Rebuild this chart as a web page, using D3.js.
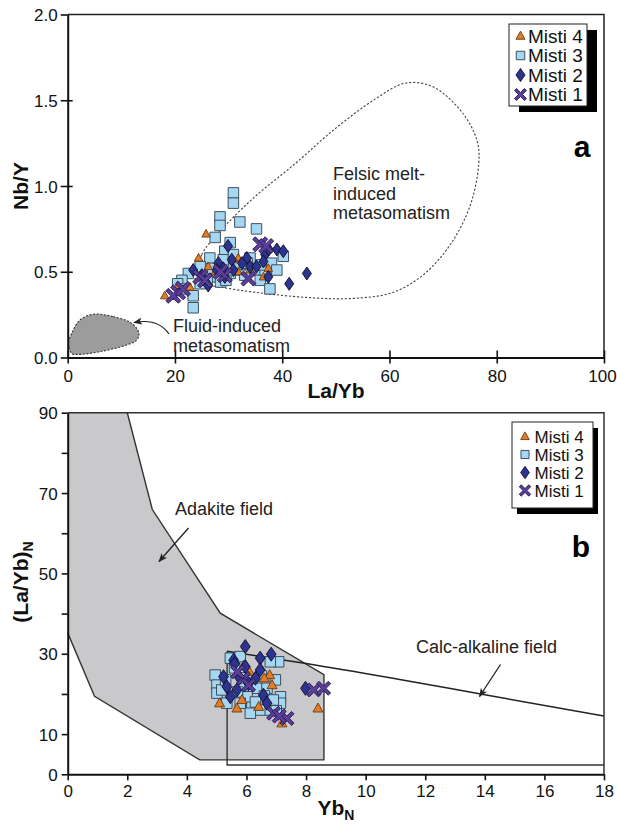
<!DOCTYPE html>
<html><head><meta charset="utf-8">
<script src="https://cdn.jsdelivr.net/npm/d3@7"></script>
<style>body{margin:0;background:#fff}svg{display:block;font-family:"Liberation Sans",Arial,Helvetica,sans-serif}</style>
</head><body><svg id="c" width="617" height="824"></svg>
<script>
// ---------- DATA ----------
const seriesNames = ["Misti 4", "Misti 3", "Misti 2", "Misti 1"];

// Panel a: [La/Yb, Nb/Y]
const aMisti3 = [[30.9,0.96],[30.9,0.90],[28.4,0.82],[28.4,0.77],[32.1,0.79],[27.5,0.70],[35.2,0.75],[30.3,0.67],[29.3,0.62],[26.5,0.58],[29.0,0.57],[30.9,0.60],[34.0,0.58],[32.1,0.54],[24.7,0.53],[22.5,0.49],[21.3,0.45],[20.5,0.43],[22.0,0.40],[23.4,0.36],[23.4,0.29],[24.7,0.43],[25.5,0.47],[27.8,0.47],[27.0,0.52],[30.3,0.49],[32.1,0.51],[33.0,0.48],[35.2,0.51],[35.9,0.45],[36.8,0.51],[38.0,0.55],[39.0,0.51],[40.2,0.59],[37.7,0.40],[28.5,0.44],[31.0,0.53],[29.5,0.45],[26.0,0.45],[33.5,0.55],[36.0,0.54]];
const aMisti4 = [[25.8,0.72],[24.4,0.58],[26.2,0.53],[18.1,0.36],[22.8,0.41],[31.8,0.50],[34.0,0.51],[36.5,0.47],[37.4,0.52],[30.7,0.57],[31.8,0.58],[27.5,0.50],[20.5,0.42]];
const aMisti2 = [[29.9,0.65],[39.0,0.63],[40.2,0.62],[36.8,0.60],[37.5,0.63],[44.6,0.49],[41.3,0.43],[28.1,0.55],[30.6,0.57],[33.4,0.58],[34.0,0.53],[26.2,0.42],[27.8,0.51],[29.3,0.47],[30.9,0.51],[37.4,0.47],[35.2,0.53],[23.4,0.51],[32.5,0.55],[29.0,0.52],[25.0,0.48],[36.5,0.56]];
const aMisti1 = [[35.9,0.66],[37.0,0.65],[24.7,0.47],[25.6,0.45],[20.6,0.38],[19.7,0.36],[21.5,0.40],[33.7,0.46],[29.3,0.48],[28.5,0.50]];

// Panel b: [YbN, (La/Yb)N]
const bMisti3 = [[5.46,28.9],[5.79,29.3],[7.08,28.0],[6.8,28.0],[4.95,24.7],[5.01,22.2],[5.01,20.2],[5.17,21.0],[6.35,21.4],[6.97,23.5],[7.14,19.3],[7.14,17.7],[6.18,16.8],[6.46,16.0],[6.02,19.3],[6.69,21.4],[5.79,17.7],[6.13,15.2],[6.8,16.0],[5.34,17.7],[5.6,26.5],[6.5,24.5],[5.9,22.0],[6.6,19.5],[5.3,23.5],[6.9,18.5],[6.3,18.0],[5.7,20.5],[7.0,15.8],[6.0,24.0]];
const bMisti4 = [[5.1,17.7],[5.68,16.4],[5.85,18.5],[6.41,16.8],[6.78,24.7],[6.86,22.2],[6.6,23.9],[7.19,12.7],[8.4,16.4],[5.9,27.0],[6.1,25.5]];
const bMisti2 = [[5.96,31.8],[5.57,28.4],[6.46,28.9],[6.83,29.9],[5.23,24.3],[5.96,26.8],[6.46,26.0],[6.3,23.9],[5.34,21.8],[5.68,21.0],[5.46,19.3],[6.57,19.7],[6.69,17.7],[7.98,21.4],[6.07,22.6],[5.77,24.0],[5.6,27.5]];
const bMisti1 = [[8.26,21.0],[8.59,21.4],[6.91,15.2],[7.36,13.9],[5.9,23.9],[6.07,22.2],[5.7,25.5],[7.1,14.5]];

// Fields
const felsicField = [[24.0,0.47],[25.0,0.6],[28.5,0.74],[35,0.94],[42.4,1.13],[49.7,1.33],[57,1.5],[63,1.6],[68,1.58],[73,1.45],[75.8,1.31],[76.7,1.19],[75.4,0.92],[71.8,0.68],[66.6,0.49],[60.7,0.38],[53.4,0.345],[46,0.347],[35,0.38],[28.5,0.41],[25,0.43]];
const fluidField = [[4.8,0.252],[8.5,0.238],[11.9,0.2],[13.3,0.14],[12.8,0.1],[11,0.073],[6,0.034],[2,0.018],[0.75,0.024],[0.15,0.08],[0.75,0.141],[2.3,0.219]];
const adakiteField = [[0,90],[2,90],[2.84,65.9],[5.12,40.1],[8.6,24.8],[8.6,3.6],[4.43,3.6],[0.9,19.4],[0,35.2]];
const calcAlkTop = [[5.35,30.6],[8,27.6],[11,23.8],[14,19.8],[18,14.5]];
const calcAlkBase = [[5.35,30.6],[5.35,2.3],[18,2.3]];

// Ticks
const aXTicks = [0,20,40,60,80,100];
const aYTicks = [0,0.5,1.0,1.5,2.0];
const bXTicks = [0,2,4,6,8,10,12,14,16,18];
const bYTicks = [0,10,20,30,40,50,60,70,80,90];
const bYLabels = [0,10,30,50,70,90];

// ---------- DRAW ----------
const svg = d3.select("#c");
const L = 67.7, R = 604;
const xA = d3.scaleLinear([0,100],[L,R]);
const yA = d3.scaleLinear([0,2],[357.5,14.5]);
const xB = d3.scaleLinear([0,18],[L,R]);
const yB = d3.scaleLinear([0,90],[774.3,412.7]);

const sty = {
  tri: {fill:"#e27c26", stroke:"#6a3a12"},
  sq: {fill:"#a6d7f2", stroke:"#2f3f50"},
  dia: {fill:"#2c348f", stroke:"#0d0d2a"},
  x: {fill:"#5b3e98", stroke:"#24164d"}
};
function markerPath(type, s) {
  if (type === "tri") { const w = s, h = s*0.9; return `M0,${-h*0.6}L${w/2},${h*0.4}L${-w/2},${h*0.4}Z`; }
  if (type === "sq") { const a = s/2; return `M${-a},${-a}H${a}V${a}H${-a}Z`; }
  if (type === "dia") { const w = s*0.7, h = s; return `M0,${-h/2}L${w/2},0L0,${h/2}L${-w/2},0Z`; }
  const r = s/2, t = s*0.17;
  const p = [[0,-t],[r-t,-r],[r,-r+t],[t,0],[r,r-t],[r-t,r],[0,t],[-r+t,r],[-r,r-t],[-t,0],[-r,-r+t],[-r+t,-r]];
  return "M" + p.map(q => q.join(",")).join("L") + "Z";
}
function plotSeries(g, data, type, size, xs, ys) {
  g.selectAll(null).data(data).enter().append("path")
    .attr("d", markerPath(type, size))
    .attr("transform", d => `translate(${xs(d[0])},${ys(d[1])})`)
    .attr("fill", sty[type].fill).attr("stroke", sty[type].stroke).attr("stroke-width", 0.9);
}
function legend(x, y, w, h, sx, sy, rows, symX, txtX, fs, scale) {
  const g = svg.append("g");
  g.append("rect").attr("x", x+sx).attr("y", y+sy).attr("width", w).attr("height", h).attr("fill", "#000");
  g.append("rect").attr("x", x).attr("y", y).attr("width", w).attr("height", h).attr("fill", "#fff").attr("stroke", "#222").attr("stroke-width", 1);
  const types = ["tri","sq","dia","x"];
  const sizes = [9*scale, 8.5*scale, 13*scale, 12*scale];
  seriesNames.forEach((n, i) => {
    g.append("path").attr("d", markerPath(types[i], sizes[i])).attr("transform", `translate(${symX},${rows[i]})`)
      .attr("fill", sty[types[i]].fill).attr("stroke", sty[types[i]].stroke).attr("stroke-width", 0.9);
    g.append("text").attr("x", txtX).attr("y", rows[i] + fs*0.36).attr("font-size", fs).attr("fill", "#111").text(n);
  });
}
const defs = svg.append("defs");
defs.append("marker").attr("id", "ah").attr("viewBox", "0 0 10 10").attr("refX", 9).attr("refY", 5)
  .attr("markerWidth", 9).attr("markerHeight", 9).attr("markerUnits", "userSpaceOnUse").attr("orient", "auto")
  .append("path").attr("d", "M0,1L10,5L0,9L2.5,5Z").attr("fill", "#222");

// ===== Panel a =====
const gA = svg.append("g");
const closed = d3.line().x(d => xA(d[0])).y(d => yA(d[1])).curve(d3.curveCatmullRomClosed.alpha(0.5));
gA.append("path").attr("d", closed(fluidField)).attr("fill", "#9c9c9c").attr("stroke", "#333").attr("stroke-width", 1.1).attr("stroke-dasharray", "2,1.6");
gA.append("path").attr("d", closed(felsicField)).attr("fill", "none").attr("stroke", "#444").attr("stroke-width", 1.1).attr("stroke-dasharray", "2.2,1.8");

gA.append("path").attr("d", `M${L},${yA(2)}H${R}V${yA(0)}`).attr("fill", "none").attr("stroke", "#222").attr("stroke-width", 1.5);

const axA_x = gA.append("g").attr("transform", `translate(0,${yA(0)})`)
  .call(d3.axisBottom(xA).tickValues(aXTicks).tickSize(6).tickSizeOuter(0).tickFormat(d3.format("d")));
axA_x.selectAll(".tick line").attr("y1", -7);
const axA_y = gA.append("g").attr("transform", `translate(${L},0)`)
  .call(d3.axisLeft(yA).tickValues(aYTicks).tickSize(7).tickSizeOuter(0).tickFormat(d3.format(".1f")));
axA_y.selectAll(".tick line").attr("x1", 5);
axA_y.selectAll(".tick").filter(d => d === 2).select("line").attr("x1", 0);

gA.append("path").attr("d", `M169,334Q158,318 134,322.5`).attr("fill", "none").attr("stroke", "#222").attr("stroke-width", 1.2).attr("marker-end", "url(#ah)");
const annA = gA.append("g").attr("font-size", 18).attr("fill", "#222");
annA.append("text").attr("x", 173).attr("y", 332).text("Fluid-induced");
annA.append("text").attr("x", 173).attr("y", 352).text("metasomatism");
annA.append("text").attr("x", 333).attr("y", 180).text("Felsic melt-");
annA.append("text").attr("x", 333).attr("y", 199.5).text("induced");
annA.append("text").attr("x", 333).attr("y", 219).text("metasomatism");
gA.append("text").attr("x", 582).attr("y", 157).attr("text-anchor", "middle").attr("font-size", 30).attr("font-weight", "bold").text("a");

plotSeries(gA, aMisti3, "sq", 10.5, xA, yA);
plotSeries(gA, aMisti4, "tri", 8.5, xA, yA);
plotSeries(gA, aMisti2, "dia", 13, xA, yA);
plotSeries(gA, aMisti1, "x", 15, xA, yA);

legend(509, 24, 78, 82, 10, 6, [36, 55.5, 75, 94.5], 520.5, 528, 19, 1);

// ===== Panel b =====
const gB = svg.append("g");
const lineB = d3.line().x(d => xB(d[0])).y(d => yB(d[1]));
gB.append("path").attr("d", lineB(adakiteField) + "Z").attr("fill", "#c9c9cb").attr("stroke", "none");
gB.append("path").attr("d", lineB(adakiteField.slice(1))).attr("fill", "none").attr("stroke", "#333").attr("stroke-width", 1.4);
gB.append("path").attr("d", lineB(calcAlkBase)).attr("fill", "none").attr("stroke", "#333").attr("stroke-width", 1.4);
gB.append("path").attr("d", lineB.curve(d3.curveMonotoneX)(calcAlkTop)).attr("fill", "none").attr("stroke", "#222").attr("stroke-width", 1.5);

gB.append("path").attr("d", `M${L},${yB(90)}H${R}V${yB(0)}`).attr("fill", "none").attr("stroke", "#333").attr("stroke-width", 1.5);

const axB_x = gB.append("g").attr("transform", `translate(0,${yB(0)})`)
  .call(d3.axisBottom(xB).tickValues(bXTicks).tickSize(6).tickSizeOuter(0).tickFormat(d3.format("d")));
const axB_y = gB.append("g").attr("transform", `translate(${L},0)`)
  .call(d3.axisLeft(yB).tickValues(bYTicks).tickSize(6).tickSizeOuter(0).tickFormat(d => bYLabels.includes(d) ? d : ""));

const annB = gB.append("g").attr("font-size", 18).attr("fill", "#222");
annB.append("text").attr("x", 175).attr("y", 515).text("Adakite field");
annB.append("text").attr("x", 416).attr("y", 653).text("Calc-alkaline field");
gB.append("line").attr("x1", 188.5).attr("y1", 528).attr("x2", 159).attr("y2", 561.5).attr("stroke", "#222").attr("stroke-width", 1.3).attr("marker-end", "url(#ah)");
gB.append("line").attr("x1", 500.5).attr("y1", 664.5).attr("x2", 479.5).attr("y2", 696.5).attr("stroke", "#222").attr("stroke-width", 1.3).attr("marker-end", "url(#ah)");
gB.append("text").attr("x", 581).attr("y", 557).attr("text-anchor", "middle").attr("font-size", 30).attr("font-weight", "bold").text("b");

plotSeries(gB, bMisti3, "sq", 10.5, xB, yB);
plotSeries(gB, bMisti4, "tri", 10, xB, yB);
plotSeries(gB, bMisti2, "dia", 14, xB, yB);
plotSeries(gB, bMisti1, "x", 14, xB, yB);

legend(512, 422, 81, 86, 5, 6, [436.5, 454.5, 472.5, 490.5], 525, 534.5, 17, 0.95);

// ---- axis styling ----
svg.selectAll(".domain").attr("stroke", "#111").attr("stroke-width", 2);
svg.selectAll(".tick line").attr("stroke", "#111").attr("stroke-width", 1.6);
svg.selectAll(".tick text").attr("font-size", 17).attr("fill", "#111").attr("font-family", '"Liberation Sans",Arial,sans-serif');
axA_x.selectAll(".tick text").attr("y", 24).attr("dy", null);
axA_x.selectAll(".tick").filter(d => d === 100).select("text").attr("x", -2);
axB_x.selectAll(".tick text").attr("y", 23).attr("dy", null);
axA_y.selectAll(".tick text").attr("x", -10).attr("dy", "0.36em");
axB_y.selectAll(".tick text").attr("x", -10).attr("dy", "0.36em");

// ---- axis titles ----
const tt = svg.append("g").attr("font-weight", "bold").attr("font-size", 21).attr("fill", "#111");
tt.append("text").attr("x", 336).attr("y", 398).attr("text-anchor", "middle").text("La/Yb");
tt.append("text").attr("transform", "translate(28,186) rotate(-90)").attr("text-anchor", "middle").text("Nb/Y");
const yt = tt.append("text").attr("transform", "translate(28,582) rotate(-90)").attr("text-anchor", "middle");
yt.append("tspan").text("(La/Yb)");
yt.append("tspan").attr("font-size", 14).attr("dy", 5).text("N");
const xt = tt.append("text").attr("x", 336).attr("y", 815).attr("text-anchor", "middle");
xt.append("tspan").text("Yb");
xt.append("tspan").attr("font-size", 14).attr("dy", 5).text("N");
</script></body></html>
